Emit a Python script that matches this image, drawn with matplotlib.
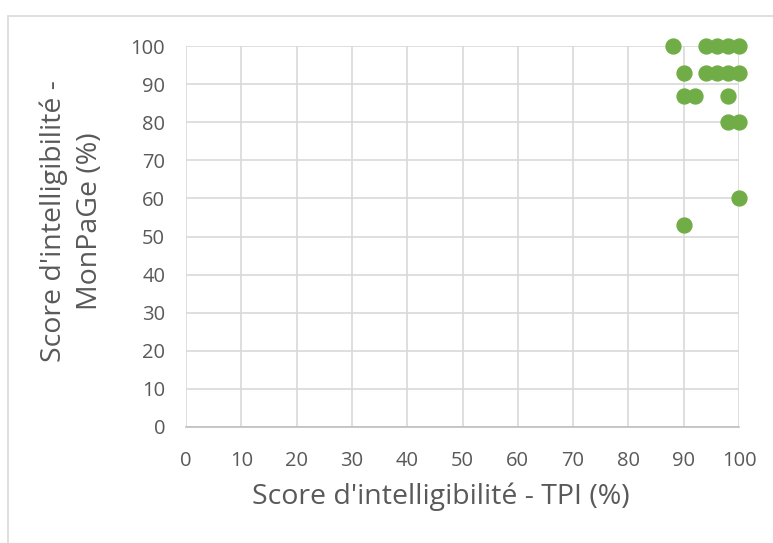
import matplotlib
matplotlib.use('Agg')
import matplotlib.pyplot as plt
from matplotlib.patches import Rectangle

# scores
tpi = [88, 94, 96, 98, 100,
       90, 94, 96, 98, 100,
       90, 92, 98,
       98, 100,
       100,
       90]
monpage = [100, 100, 100, 100, 100,
           93, 93, 93, 93, 93,
           87, 87, 87,
           80, 80,
           60,
           53]
ticks = list(range(0, 101, 10))

plt.rcParams['font.family'] = ['Open Sans', 'DejaVu Sans']
txt = '#595959'

fig = plt.figure(figsize=(7.73, 5.43), dpi=100)
fig.patches.append(Rectangle((8 / 773, -0.1), 1.2, 1 - 16 / 543 + 0.1,
                             transform=fig.transFigure, fill=False,
                             edgecolor='#D9D9D9', linewidth=1.2))

ax = fig.add_axes([186 / 773, 1 - 427 / 543, (739 - 186) / 773, (427 - 46) / 543])
ax.scatter(tpi, monpage, s=115, color='#70AD47', zorder=3, clip_on=False)

ax.set_xlim(0, 100)
ax.set_ylim(0, 100)
ax.set_xticks(ticks)
ax.set_yticks(ticks)
ax.grid(True, color='#D9D9D9', linewidth=1.2)
ax.set_axisbelow(True)
for side in ['top', 'right', 'left']:
    ax.spines[side].set_visible(False)
ax.spines['bottom'].set_color('#BFBFBF')
ax.spines['bottom'].set_linewidth(1.2)
ax.tick_params(length=0, labelsize=14.5, colors=txt)
ax.tick_params(axis='x', pad=17)
ax.tick_params(axis='y', pad=15)

ax.set_xlabel("Score d'intelligibilité - TPI (%)", fontsize=20.5, color=txt)
ax.xaxis.set_label_coords(0.461, -0.145)
ax.set_ylabel("Score d'intelligibilité -\nMonPaGe (%)", fontsize=20.5, color=txt,
              linespacing=1.38)
ax.yaxis.set_label_coords(-0.148, 0.54)

fig.savefig('out.png', dpi=100)
